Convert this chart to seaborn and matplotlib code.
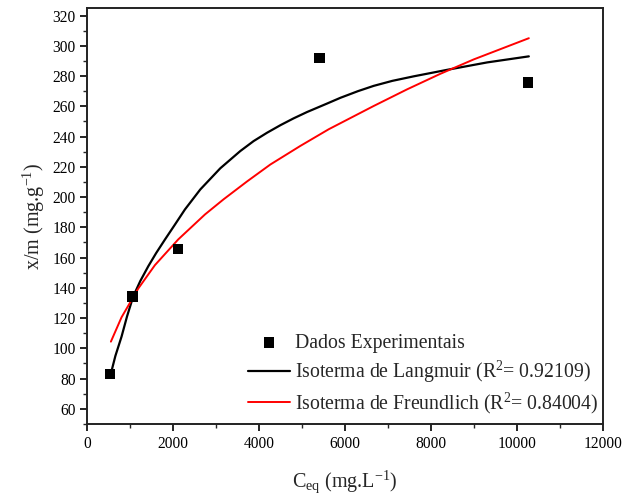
import matplotlib
matplotlib.use("Agg")
import matplotlib.pyplot as plt
import seaborn as sns
from matplotlib.ticker import MultipleLocator

# dados experimentais
c_eq = [529, 1049, 2114, 5401, 10266]
x_m = [83.0, 134.3, 165.7, 291.9, 275.8]

# isoterma de Langmuir
lang_c = [560, 650, 793, 920, 1065, 1230, 1415, 1600, 1804, 2030, 2270, 2627, 3093,
          3559, 3870, 4182, 4500, 4800, 5114, 5580, 5891, 6300, 6667, 7100, 7599,
          8378, 9310, 10280]
lang_q = [85.0, 95.0, 107.7, 121.0, 134.3, 144.5, 154.2, 163.0, 171.9, 181.5, 191.8,
          205.0, 219.0, 230.4, 237.0, 242.5, 247.6, 252.0, 256.2, 261.8, 265.6, 270.0,
          273.5, 276.8, 279.8, 284.1, 289.0, 293.0]

# isoterma de Freundlich
freu_c = [545, 793, 1182, 1571, 2114, 2737, 3170, 3716, 4259, 4958, 5618, 6667,
          7445, 8222, 8998, 10280]
freu_q = [104.4, 120.5, 139.5, 155.0, 172.0, 188.5, 198.5, 210.3, 221.5, 233.8,
          244.8, 260.2, 271.2, 281.5, 291.0, 305.0]

sns.set_style("ticks")
plt.rcParams["font.family"] = ["Liberation Serif", "DejaVu Serif"]
plt.rcParams["mathtext.fontset"] = "custom"
plt.rcParams["mathtext.rm"] = "Liberation Serif"
plt.rcParams["mathtext.it"] = "Liberation Serif:italic"

fig = plt.figure(figsize=(6.34, 4.97), dpi=100)
ax = fig.add_axes([0.138, 0.147, 0.8126, 0.837])

sns.scatterplot(x=c_eq, y=x_m, marker="s", s=55, color="black", edgecolor="none",
                label="Dados Experimentais", ax=ax, zorder=3)
sns.lineplot(x=lang_c, y=lang_q, color="black", linewidth=1.6, sort=False,
             label="Isoterma de Langmuir (R$^2$= 0.92109)", ax=ax)
sns.lineplot(x=freu_c, y=freu_q, color="red", linewidth=1.4, sort=False,
             label="Isoterma de Freundlich (R$^2$= 0.84004)", ax=ax)

ax.set_xlim(0, 12000)
ax.set_ylim(50, 325)
ax.xaxis.set_major_locator(MultipleLocator(2000))
ax.xaxis.set_minor_locator(MultipleLocator(1000))
ax.yaxis.set_minor_locator(MultipleLocator(10))
ax.set_yticks(range(60, 321, 20))

ax.tick_params(which="major", direction="out", length=5, width=1.2, labelsize=11.2,
               colors="black")
ax.tick_params(which="minor", direction="out", length=3, width=1.0)
for sp in ax.spines.values():
    sp.set_visible(True)
    sp.set_linewidth(1.4)
    sp.set_color("#222222")

ax.set_xlabel("C$_\\mathrm{eq}$ (mg.L$^{-1}$)", fontsize=14.5, labelpad=12)
ax.set_ylabel("x/m (mg.g$^{-1}$)", fontsize=14.5, labelpad=4)

leg = ax.legend(loc="lower right", bbox_to_anchor=(1.008, 0.0), frameon=False,
                fontsize=14.2, handlelength=2.1, handletextpad=0.3, labelspacing=0.3,
                markerscale=1.0, borderaxespad=0.0)

fig.savefig("out.png", dpi=100)
